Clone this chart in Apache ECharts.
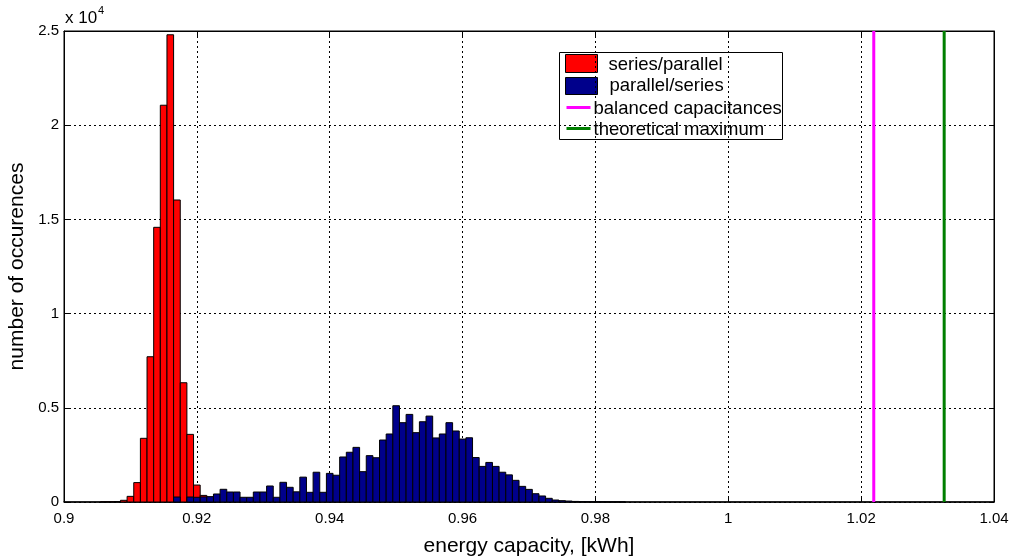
<!DOCTYPE html>
<html>
<head>
<meta charset="utf-8">
<script src="https://cdn.jsdelivr.net/npm/echarts@6/dist/echarts.min.js"></script>
<style>
html,body{margin:0;padding:0;background:#fff;}
#chart{width:1014px;height:560px;}
</style>
</head>
<body>
<div id="chart"></div>
<script>
// ---- data ----
const redBins = [0.906,0.907,0.908,0.909,0.910,0.911,0.912,0.913,0.914,0.915,0.916,0.917,0.918,0.919,0.920,0.921,0.922];
const redCounts = [10,15,25,90,300,1030,3380,7710,14580,21060,24800,16030,6330,3590,900,350,40];

const blueBins = [0.917,0.918,0.919,0.920,0.921,0.922,0.923,0.924,0.925,0.926,0.927,0.928,0.929,0.930,
  0.931,0.932,0.933,0.934,0.935,0.936,0.937,0.938,0.939,0.940,0.941,0.942,0.943,0.944,0.945,0.946,0.947,
  0.948,0.949,0.950,0.951,0.952,0.953,0.954,0.955,0.956,0.957,0.958,0.959,0.960,0.961,0.962,0.963,0.964,
  0.965,0.966,0.967,0.968,0.969,0.970,0.971,0.972,0.973,0.974,0.975,0.976,0.977,0.978,0.979,0.980,0.981,
  0.982,0.983,0.984];
const blueCounts = [265,0,265,250,270,285,425,675,530,530,250,250,530,530,
  850,250,1045,780,540,1320,515,1580,515,1520,1420,2390,2640,2900,1610,2460,2350,
  3290,3610,5110,4210,4650,3680,4260,4560,3400,3610,4210,3770,3340,3410,2360,1890,2100,
  1890,1580,1440,1150,830,670,440,320,195,105,70,50,30,20,15,10,10,
  5,5,5];

const balancedValue = 1.0219;
const theoreticalMax = 1.0325;

const legendNames = ['series/parallel','parallel/series','balanced capacitances','theoretical maximum'];
const xName = 'energy capacity, [kWh]';
const yName = 'number of occurences';

// ---- chart ----
const BIN = 0.001;
const FONT = 'Liberation Sans, Arial, sans-serif';
const chart = echarts.init(document.getElementById('chart'), null, {renderer:'canvas'});

function histRender(color){
  return function(params, api){
    const x = api.value(0), y = api.value(1);
    if (y <= 0) return null;
    const p0 = api.coord([x - BIN/2, y]);
    const p1 = api.coord([x + BIN/2, 0]);
    return {
      type:'rect',
      shape:{x:p0[0], y:p0[1], width:p1[0]-p0[0], height:p1[1]-p0[1]},
      style:{fill:color, stroke:'#000', lineWidth:1}
    };
  };
}

const GL = 64, GT = 31, GW = 930, GH = 471;
const LF = 18.5;

chart.setOption({
  animation:false,
  backgroundColor:'#fff',
  grid:{left:GL, top:GT, width:GW, height:GH, show:true, borderColor:'#000', borderWidth:1,
    backgroundColor:'transparent', containLabel:false, outerBoundsMode:'none'},
  xAxis:[{
    type:'value', min:0.9, max:1.04, interval:0.02,
    axisLine:{show:true, onZero:false, lineStyle:{color:'#000', width:1.5}},
    axisTick:{show:true, inside:true, length:5, lineStyle:{color:'#000'}},
    axisLabel:{color:'#000', fontSize:15, fontFamily:FONT, margin:9,
      formatter:v => String(parseFloat(v.toFixed(2)))},
    splitLine:{show:true, lineStyle:{color:'#000', type:[2,3], width:1}},
    name:xName, nameLocation:'middle', nameGap:34,
    nameTextStyle:{color:'#000', fontSize:21, fontFamily:FONT}
  },{
    type:'value', min:0.9, max:1.04, interval:0.02, position:'top',
    axisLine:{show:true, onZero:false, lineStyle:{color:'#000'}},
    axisTick:{show:true, inside:true, length:5, lineStyle:{color:'#000'}},
    axisLabel:{show:false}, splitLine:{show:false}
  }],
  yAxis:[{
    type:'value', min:0, max:25000, interval:5000,
    axisLine:{show:true, onZero:false, lineStyle:{color:'#000'}},
    axisTick:{show:true, inside:true, length:5, lineStyle:{color:'#000'}},
    axisLabel:{color:'#000', fontSize:15, fontFamily:FONT, margin:5,
      formatter:v => String(v/10000)},
    splitLine:{show:true, lineStyle:{color:'#000', type:[2,3], width:1}},
    name:yName, nameLocation:'middle', nameGap:35, nameRotate:90,
    nameTextStyle:{color:'#000', fontSize:21, fontFamily:FONT}
  },{
    type:'value', min:0, max:25000, interval:5000, position:'right',
    axisLine:{show:true, onZero:false, lineStyle:{color:'#000'}},
    axisTick:{show:true, inside:true, length:5, lineStyle:{color:'#000'}},
    axisLabel:{show:false}, splitLine:{show:false}
  }],
  series:[
    {name:legendNames[0], type:'custom', xAxisIndex:0, yAxisIndex:0,
      renderItem:histRender('#ff0000'), encode:{x:0,y:1},
      data:redBins.map((b,i)=>[b, redCounts[i]]), z:2},
    {name:legendNames[1], type:'custom', xAxisIndex:0, yAxisIndex:0,
      renderItem:histRender('#00008b'), encode:{x:0,y:1},
      data:blueBins.map((b,i)=>[b, blueCounts[i]]), z:3},
    {name:legendNames[2], type:'line', symbol:'none', xAxisIndex:0, yAxisIndex:0,
      lineStyle:{color:'#ff00ff', width:3},
      data:[[balancedValue,0],[balancedValue,25000]], z:4},
    {name:legendNames[3], type:'line', symbol:'none', xAxisIndex:0, yAxisIndex:0,
      lineStyle:{color:'#007f00', width:3},
      data:[[theoreticalMax,0],[theoreticalMax,25000]], z:4}
  ],
  graphic:[
    {type:'text', left:65, top:10, style:{text:'x 10', fontSize:17, fontFamily:FONT, fill:'#000'}},
    {type:'text', left:98, top:5, style:{text:'4', fontSize:11, fontFamily:FONT, fill:'#000'}},
    {type:'group', left:559, top:52, z:100, children:[
      {type:'rect', shape:{x:0, y:0, width:223, height:87}, style:{fill:'#fff', stroke:'#000', lineWidth:1}},
      {type:'rect', shape:{x:6, y:2, width:32, height:18}, style:{fill:'#ff0000', stroke:'#000', lineWidth:1}},
      {type:'rect', shape:{x:6, y:25, width:32, height:17}, style:{fill:'#00008b', stroke:'#000', lineWidth:1}},
      {type:'line', shape:{x1:7, y1:55, x2:31, y2:55}, style:{stroke:'#ff00ff', lineWidth:3}},
      {type:'line', shape:{x1:7, y1:76, x2:31, y2:76}, style:{stroke:'#007f00', lineWidth:3}},
      {type:'text', x:49, y:12, style:{text:legendNames[0], fontSize:LF, fontFamily:FONT, fill:'#000', verticalAlign:'middle'}},
      {type:'text', x:50, y:33, style:{text:legendNames[1], fontSize:LF, fontFamily:FONT, fill:'#000', verticalAlign:'middle'}},
      {type:'text', x:34, y:56, style:{text:legendNames[2], fontSize:LF, fontFamily:FONT, fill:'#000', verticalAlign:'middle'}},
      {type:'text', x:34, y:77, style:{text:legendNames[3], fontSize:LF, fontFamily:FONT, fill:'#000', verticalAlign:'middle'}}
    ]}
  ]
});
</script>
</body>
</html>
